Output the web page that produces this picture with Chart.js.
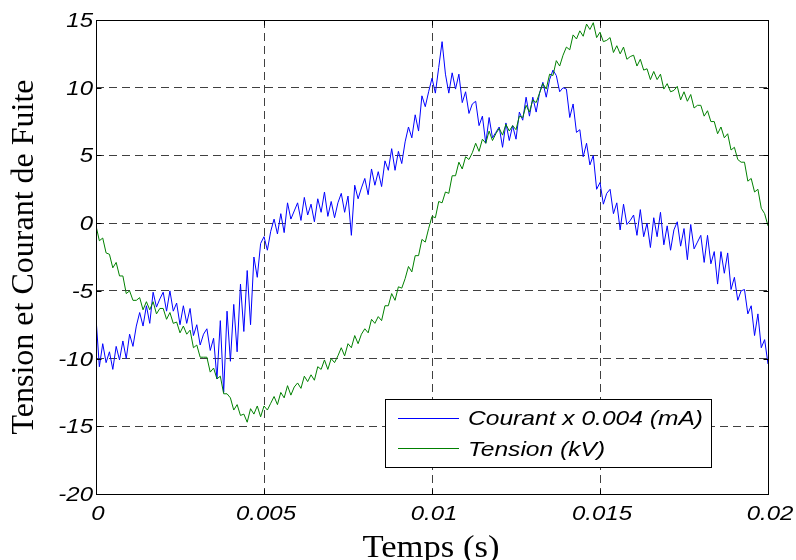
<!DOCTYPE html>
<html>
<head>
<meta charset="utf-8">
<script src="https://cdn.jsdelivr.net/npm/chart.js@4.4.1/dist/chart.umd.min.js"></script>
<style>
  body { margin: 0; background: #fff; }
</style>
</head>
<body>
<canvas id="fuite" width="796" height="560"></canvas>
<script>
// one sample every 0.1 ms, 0 -> 0.02 s (201 samples)
const sampleStep = 0.0001;

const courant = [
  -7.0, -10.6, -8.9, -10.3, -9.5, -10.8, -9.1, -10.1, -8.7, -10.0,
  -8.2, -9.1, -7.6, -6.6, -7.6, -6.1, -7.4, -5.1, -6.2, -5.6,
  -5.1, -6.5, -5.0, -6.5, -5.9, -7.5, -6.1, -7.4, -6.3, -8.3,
  -7.5, -9.0, -8.2, -7.8, -9.4, -8.5, -11.5, -7.2, -12.5, -6.5,
  -10.2, -6.0, -9.5, -4.5, -8.0, -3.5, -7.5, -2.5, -4.0, -1.5,
  -1.0, -2.0, -0.6, 0.3, -0.8, 0.7, -0.7, 1.5, 0.3, 0.9,
  1.5, 0.2, 1.9, 0.6, 1.4, 0.1, 1.8, 0.8, 2.3, 0.5,
  1.6, 0.4, 1.5, 2.2, 0.8, 2.0, -0.9, 2.8, 1.8, 2.6,
  3.3, 2.1, 4.0, 2.8, 3.8, 2.7, 4.6, 3.9, 5.5, 3.9,
  5.3, 4.4, 6.0, 7.1, 6.3, 8.0, 6.8, 9.4, 8.6, 9.7,
  10.7, 9.6, 11.5, 13.4, 11.0, 9.6, 11.1, 9.9, 11.0, 8.9,
  9.7, 8.1, 8.8, 9.0, 7.2, 7.9, 5.9, 7.8, 6.3, 6.7,
  7.1, 5.6, 7.4, 6.1, 7.2, 6.2, 8.2, 7.6, 9.3, 7.9,
  9.3, 8.2, 9.6, 10.4, 9.3, 10.6, 11.3, 10.9, 9.7, 10.0,
  9.9, 7.8, 8.8, 6.7, 6.9, 4.9, 5.9, 4.3, 5.0, 2.5,
  3.0, 1.4, 2.2, 2.5, 0.7, 1.5, -0.5, 1.4, -0.1, 0.2,
  0.6, -0.9, 1.0, -1.0, 0.0, -1.8, 0.4, -1.0, 0.8, -1.6,
  -0.2, -2.0, -0.5, 0.1, -1.7, -0.4, -2.7, -0.1, -1.9, -1.4,
  -0.9, -2.9, -0.9, -3.0, -2.1, -4.5, -2.1, -3.7, -2.2, -4.9,
  -4.0, -5.7, -5.0, -4.9, -6.7, -6.1, -8.3, -6.7, -9.2, -8.6, -10.4
];

const tension = [
  -0.2, -1.3, -1.1, -2.2, -2.3, -3.3, -2.9, -3.9, -3.9, -5.2,
  -5.0, -5.7, -5.7, -5.5, -6.4, -5.8, -6.4, -5.8, -6.7, -6.3,
  -6.3, -7.1, -6.6, -7.4, -7.3, -8.1, -7.6, -8.2, -7.9, -9.2,
  -9.0, -9.9, -9.9, -9.9, -11.0, -10.7, -11.5, -11.3, -12.6, -12.6,
  -12.9, -13.8, -13.4, -14.2, -14.1, -14.7, -13.7, -14.1, -13.5, -14.3,
  -13.5, -13.8, -13.3, -12.8, -13.4, -12.5, -12.9, -12.0, -12.7, -12.1,
  -11.8, -12.2, -11.3, -11.7, -11.2, -11.6, -10.6, -10.8, -10.1, -10.8,
  -10.0, -10.3, -9.8, -9.2, -9.8, -8.9, -9.2, -8.3, -8.9, -8.2,
  -7.8, -8.1, -7.1, -7.4, -6.9, -7.2, -6.1, -6.1, -5.2, -5.7,
  -4.7, -4.8, -4.1, -3.2, -3.6, -2.4, -2.4, -1.2, -1.4, -0.4,
  0.5, 0.4, 1.6, 1.5, 2.3, 2.2, 3.5, 3.5, 4.5, 4.0,
  4.9, 4.7, 5.2, 5.9, 5.3, 6.2, 5.9, 6.8, 6.1, 6.6,
  7.0, 6.5, 7.3, 6.8, 7.2, 6.9, 7.9, 7.8, 8.7, 8.2,
  9.1, 8.9, 9.6, 10.3, 9.9, 11.0, 10.9, 12.0, 11.6, 12.4,
  13.0, 12.8, 13.9, 13.6, 14.2, 13.8, 14.7, 14.3, 14.8, 13.7,
  14.1, 13.4, 13.5, 13.7, 12.6, 13.1, 12.5, 13.0, 12.1, 12.3,
  12.4, 11.6, 12.1, 11.3, 11.4, 10.6, 11.2, 10.6, 11.0, 9.9,
  10.3, 9.7, 9.8, 10.1, 9.1, 9.7, 9.0, 9.5, 8.5, 8.7,
  8.7, 7.9, 8.3, 7.5, 7.5, 6.6, 7.1, 6.3, 6.6, 5.4,
  5.6, 4.7, 4.5, 4.5, 3.1, 3.3, 2.3, 2.5, 1.1, 0.7, -0.2
];

const xTicks = [0, 0.005, 0.01, 0.015, 0.02];
const xTickLabels = ['0', '0.005', '0.01', '0.015', '0.02'];
const yTicks = [-20, -15, -10, -5, 0, 5, 10, 15];
const yTickLabels = ['-20', '-15', '-10', '-5', '0', '5', '10', '15'];

const legendLabels = ['Courant x 0.004 (mA)', 'Tension (kV)'];
const xTitle = 'Temps (s)';
const yTitle = 'Tension et Courant de Fuite';

const BLUE = '#0000ff';
const GREEN = '#008000';

function toPoints(arr) {
  return arr.map((v, i) => ({ x: i * sampleStep, y: v }));
}

// text squeezed / stretched horizontally like the exported figure
function wideText(ctx, text, x, y, sx, align) {
  ctx.save();
  ctx.translate(x, y);
  ctx.scale(sx, 1);
  ctx.textAlign = align;
  ctx.fillText(text, 0, 0);
  ctx.restore();
}

const matlabFrame = {
  id: 'matlabFrame',
  afterDraw(chart) {
    const ctx = chart.ctx;
    const a = chart.chartArea;
    const xs = chart.scales.x;
    const ys = chart.scales.y;
    const L = Math.round(a.left) + 0.5, R = Math.round(a.right) + 0.5;
    const T = Math.round(a.top) + 0.5, B = Math.round(a.bottom) + 0.5;

    ctx.save();
    ctx.strokeStyle = '#000';
    ctx.lineWidth = 1;
    ctx.strokeRect(L, T, R - L, B - T);

    // inward ticks
    ctx.beginPath();
    xTicks.forEach(v => {
      const px = Math.round(xs.getPixelForValue(v)) + 0.5;
      ctx.moveTo(px, B); ctx.lineTo(px, B - 5);
      ctx.moveTo(px, T); ctx.lineTo(px, T + 5);
    });
    yTicks.forEach(v => {
      const py = Math.round(ys.getPixelForValue(v)) + 0.5;
      ctx.moveTo(L, py); ctx.lineTo(L + 5, py);
      ctx.moveTo(R, py); ctx.lineTo(R - 5, py);
    });
    ctx.stroke();

    // tick labels
    ctx.fillStyle = '#000';
    ctx.font = 'italic 20px "Liberation Sans"';
    ctx.textBaseline = 'alphabetic';
    yTicks.forEach((v, i) => {
      const py = ys.getPixelForValue(v);
      wideText(ctx, yTickLabels[i], 93, py + 7, 1.2, 'right');
    });
    xTicks.forEach((v, i) => {
      const px = xs.getPixelForValue(v);
      wideText(ctx, xTickLabels[i], px + 2, 520, 1.2, 'center');
    });

    // axis titles
    ctx.font = '32px "Liberation Serif"';
    let w = ctx.measureText(xTitle).width;
    wideText(ctx, xTitle, 431, 557, 137 / w, 'center');

    w = ctx.measureText(yTitle).width;
    ctx.save();
    ctx.translate(33, 257);
    ctx.rotate(-Math.PI / 2);
    wideText(ctx, yTitle, 0, 0, 355 / w, 'center');
    ctx.restore();

    // legend box
    ctx.fillStyle = '#fff';
    ctx.fillRect(385, 399, 326, 68);
    ctx.strokeStyle = '#000';
    ctx.strokeRect(385.5, 399.5, 326, 68);

    ctx.lineWidth = 1;
    ctx.strokeStyle = BLUE;
    ctx.beginPath(); ctx.moveTo(398, 418.5); ctx.lineTo(459, 418.5); ctx.stroke();
    ctx.strokeStyle = GREEN;
    ctx.beginPath(); ctx.moveTo(398, 448.5); ctx.lineTo(459, 448.5); ctx.stroke();

    ctx.fillStyle = '#000';
    ctx.font = 'italic 21px "Liberation Sans"';
    const sx = 235 / ctx.measureText(legendLabels[0]).width;
    wideText(ctx, legendLabels[0], 468, 425, sx, 'left');
    wideText(ctx, legendLabels[1], 468, 456, sx, 'left');
    ctx.restore();
  }
};

const gridStyle = {
  color: 'rgba(0,0,0,0.75)',
  lineWidth: 1,
  drawTicks: false
};

new Chart(document.getElementById('fuite'), {
  type: 'line',
  data: {
    datasets: [
      {
        label: legendLabels[0],
        data: toPoints(courant),
        borderColor: BLUE,
        borderWidth: 1,
        pointRadius: 0,
        tension: 0,
        order: 1
      },
      {
        label: legendLabels[1],
        data: toPoints(tension),
        borderColor: GREEN,
        borderWidth: 1,
        pointRadius: 0,
        tension: 0,
        order: 0
      }
    ]
  },
  options: {
    responsive: false,
    animation: false,
    layout: { padding: { top: 20, right: 28, left: 0, bottom: 0 } },
    plugins: {
      legend: { display: false },
      tooltip: { enabled: false }
    },
    scales: {
      x: {
        type: 'linear',
        min: 0,
        max: 0.02,
        afterBuildTicks: s => { s.ticks = xTicks.map(v => ({ value: v })); },
        afterFit: s => { s.height = 66; },
        ticks: { display: false },
        grid: gridStyle,
        border: { display: false, dash: [8, 5] }
      },
      y: {
        min: -20,
        max: 15,
        afterBuildTicks: s => { s.ticks = yTicks.map(v => ({ value: v })); },
        afterFit: s => { s.width = 96; },
        ticks: { display: false },
        grid: gridStyle,
        border: { display: false, dash: [8, 5] }
      }
    }
  },
  plugins: [matlabFrame]
});
</script>
</body>
</html>
